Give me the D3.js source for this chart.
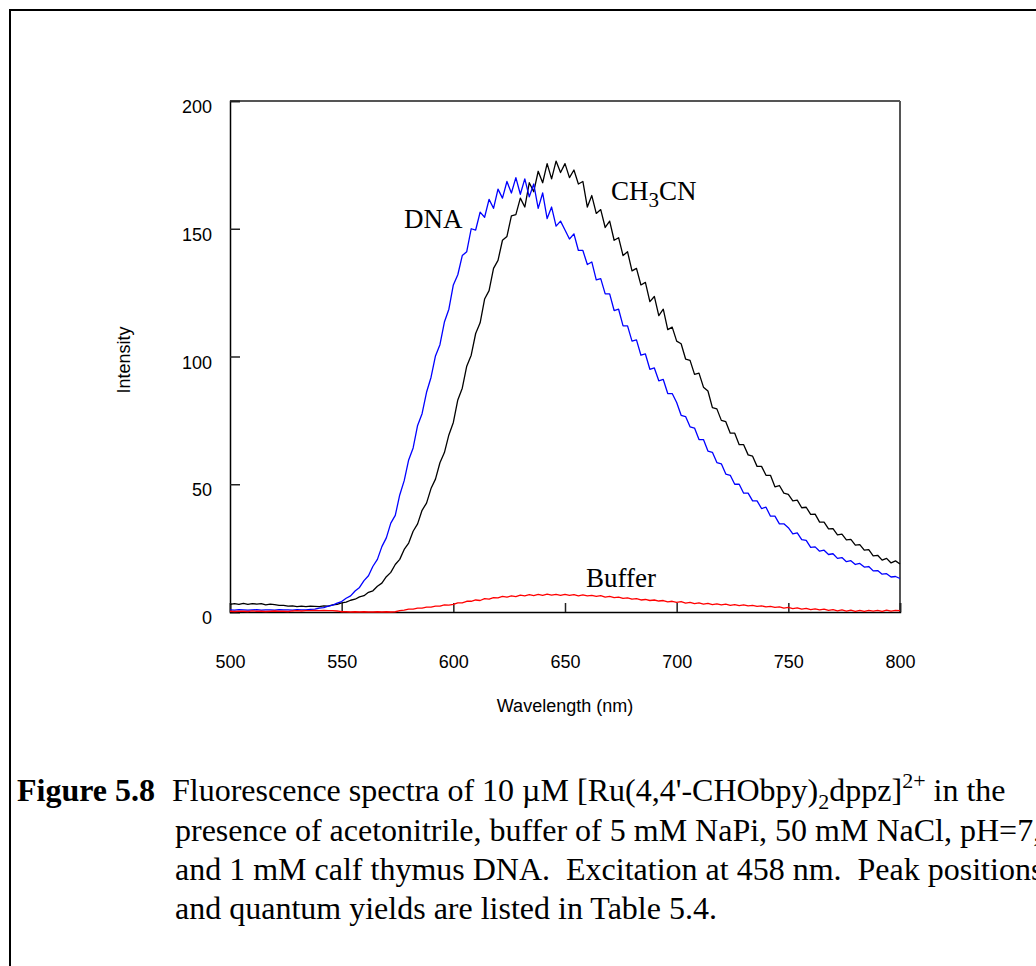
<!DOCTYPE html>
<html>
<head>
<meta charset="utf-8">
<script src="https://cdn.jsdelivr.net/npm/d3@7"></script>
<style>
  body { margin: 0; background: #fff; }
  svg { display: block; }
</style>
</head>
<body>
<svg id="chart" width="1036" height="966"></svg>
<script>
// --- Data (2 nm steps from 500 to 800 nm) ---
const wavelength = d3.range(500, 801, 2);

// acetonitrile
const ch3cn = [
    3.0, 3.3, 3.0, 3.4, 3.0, 3.3, 3.1, 3.3, 2.8, 3.1, 2.9, 2.6, 2.6, 2.3, 2.4, 2.1, 2.3, 2.1, 2.3, 2.2, 2.1, 2.4, 2.3, 2.8, 3.0,
    3.6, 3.9, 4.6, 5.0, 5.9, 6.4, 7.7, 8.3, 10.1, 11.3, 13.8, 15.5, 18.6, 20.6, 24.5, 27.0, 31.6, 34.5, 39.8, 42.6, 48.3, 52.0, 58.4, 62.4, 69.3,
    74.2, 83.0, 87.6, 96.2, 100.5, 109.0, 113.2, 122.5, 125.8, 134.5, 137.6, 145.5, 147.0, 155.0, 155.5, 162.0, 158.5, 168.0, 164.5, 172.5, 168.0, 175.5, 169.5, 176.5, 172.0,
    175.5, 170.0, 173.0, 167.5, 168.5, 158.5, 163.0, 156.0, 157.5, 150.5, 153.0, 145.5, 146.5, 139.5, 141.0, 133.5, 134.5, 128.0, 129.0, 121.5, 123.5, 116.0, 118.5, 110.5, 111.5,
    106.0, 105.0, 99.0, 98.5, 93.0, 93.5, 88.0, 86.5, 80.0, 79.5, 75.0, 74.5, 70.0, 70.0, 65.5, 65.5, 61.5, 61.0, 57.0, 57.0, 53.5, 53.5, 49.0, 49.5, 46.5,
    46.0, 43.5, 43.8, 40.8, 41.0, 38.2, 38.3, 35.2, 35.2, 32.5, 32.6, 30.2, 30.5, 28.2, 28.4, 26.2, 26.4, 24.2, 24.4, 22.0, 22.2, 20.3, 21.0, 19.2, 20.0, 18.8
];

// calf thymus DNA
const dna = [
    0.8, 0.7, 0.9, 0.8, 0.7, 0.8, 0.9, 0.7, 0.8, 0.8, 0.7, 0.9, 0.8, 0.8, 0.7, 0.9, 0.8, 0.8, 1.0, 1.1, 1.5, 1.7, 2.3, 2.7, 3.5,
    4.1, 5.4, 6.3, 8.2, 9.6, 12.3, 14.2, 17.9, 20.6, 25.6, 29.0, 34.8, 37.8, 45.8, 51.4, 59.5, 64.2, 73.0, 77.6, 86.0, 91.8, 100.2, 104.6, 113.5, 118.5,
    128.0, 132.0, 139.5, 141.0, 150.0, 149.5, 156.5, 154.5, 161.5, 158.0, 165.5, 162.0, 168.5, 164.0, 170.0, 163.5, 169.5, 162.5, 167.5, 158.0, 164.0, 154.0, 158.5, 151.0, 153.0,
    149.5, 146.0, 148.0, 141.5, 141.5, 136.0, 137.0, 130.0, 130.5, 124.5, 124.5, 118.0, 118.5, 112.0, 112.0, 106.0, 106.5, 100.5, 101.0, 95.0, 95.5, 90.5, 91.0, 85.5, 85.5,
    82.0, 77.0, 76.5, 72.5, 72.0, 67.5, 67.5, 63.0, 62.5, 58.5, 58.0, 54.0, 53.5, 50.0, 50.0, 46.5, 46.5, 43.5, 43.5, 40.5, 41.0, 37.5, 37.5, 34.5, 34.5,
    33.0, 30.6, 31.0, 28.3, 28.0, 25.3, 25.5, 23.8, 24.2, 22.5, 22.8, 21.0, 21.3, 19.7, 20.1, 18.6, 19.0, 17.6, 17.8, 16.1, 16.2, 14.8, 15.0, 13.7, 13.9, 13.1
];

// buffer only
const buffer = [
    0.3, 0.2, 0.3, 0.3, 0.2, 0.4, 0.3, 0.3, 0.2, 0.3, 0.4, 0.3, 0.3, 0.2, 0.4, 0.5, 0.4, 0.5, 0.5, 0.6, 0.5, 0.6, 0.5, 0.5, 0.4,
    0.1, 0.1, 0.0, 0.1, 0.0, 0.1, 0.0, 0.0, 0.1, 0.0, 0.1, 0.0, 0.1, 0.5, 0.7, 1.1, 1.1, 1.5, 1.5, 1.9, 1.9, 2.3, 2.3, 2.8, 2.7,
    3.0, 3.6, 3.6, 4.2, 4.2, 4.7, 4.5, 5.2, 5.0, 5.6, 5.5, 6.1, 5.8, 6.3, 6.0, 6.6, 6.3, 6.8, 6.4, 6.9, 6.5, 7.0, 6.6, 6.9, 6.5,
    6.9, 6.5, 6.8, 6.3, 6.7, 6.3, 6.5, 6.1, 6.4, 5.8, 6.1, 5.6, 5.8, 5.3, 5.5, 5.0, 5.2, 4.7, 4.9, 4.5, 4.7, 4.3, 4.5, 4.0, 4.2,
    3.8, 4.1, 3.5, 3.8, 3.3, 3.6, 3.1, 3.4, 2.9, 3.2, 2.8, 3.1, 2.6, 2.9, 2.5, 2.8, 2.4, 2.6, 2.2, 2.4, 2.0, 2.2, 1.8, 2.0, 1.5,
    1.8, 1.3, 1.6, 1.1, 1.4, 0.9, 1.2, 0.8, 1.1, 0.6, 0.9, 0.4, 0.8, 0.3, 0.7, 0.2, 0.6, 0.2, 0.6, 0.3, 0.6, 0.2, 0.7, 0.3, 0.6, 0.5
];

const xTicks = [500, 550, 600, 650, 700, 750, 800];
const yTicks = [0, 50, 100, 150, 200];

const sans = "'Liberation Sans', Arial, sans-serif";
const serif = "'Liberation Serif', 'Times New Roman', serif";

// --- Setup ---
const svg = d3.select("#chart");

// page frame (runs off the right and bottom edges)
svg.append("rect")
    .attr("x", 10).attr("y", 10)
    .attr("width", 1200).attr("height", 1200)
    .attr("fill", "none")
    .attr("stroke", "#000")
    .attr("stroke-width", 2);

const x = d3.scaleLinear().domain([500, 800]).range([230, 900]);
const y = d3.scaleLinear().domain([0, 200]).range([612, 101]);

// plot box: top + right in grey, left + bottom in black
svg.append("line")
    .attr("x1", x(500)).attr("x2", x(800))
    .attr("y1", y(200)).attr("y2", y(200))
    .attr("stroke", "#555").attr("stroke-width", 2);
svg.append("line")
    .attr("x1", x(800)).attr("x2", x(800))
    .attr("y1", y(200)).attr("y2", y(0))
    .attr("stroke", "#555").attr("stroke-width", 2);

// --- Axes (ticks point inwards) ---
const yAxis = svg.append("g")
    .attr("transform", `translate(${x(500)},0)`)
    .call(d3.axisLeft(y).tickValues(yTicks).tickSize(-10).tickPadding(18));

const xAxis = svg.append("g")
    .attr("transform", `translate(0,${y(0)})`)
    .call(d3.axisBottom(x).tickValues(xTicks).tickSize(-9).tickPadding(43));

[yAxis, xAxis].forEach(ax => {
    ax.select(".domain").attr("stroke", "#000").attr("stroke-width", 1.5);
    ax.selectAll(".tick line").attr("stroke", "#222").attr("stroke-width", 1.5);
    ax.selectAll(".tick text")
        .attr("fill", "#000")
        .style("font-family", sans)
        .style("font-size", "18px");
});
yAxis.selectAll(".tick text").attr("dy", "0.64em");

svg.append("text")
    .attr("transform", "translate(130,360) rotate(-90)")
    .attr("text-anchor", "middle")
    .style("font-family", sans)
    .style("font-size", "18px")
    .text("Intensity");

svg.append("text")
    .attr("x", 565).attr("y", 712)
    .attr("text-anchor", "middle")
    .style("font-family", sans)
    .style("font-size", "18px")
    .text("Wavelength (nm)");

// --- Spectra ---
const series = [
    { name: "CH3CN", values: ch3cn, color: "#000000" },
    { name: "DNA", values: dna, color: "#0000ff" },
    { name: "Buffer", values: buffer, color: "#ff0000" }
];

const line = d3.line()
    .x((d, i) => x(wavelength[i]))
    .y(d => y(d));

svg.append("g")
    .selectAll("path")
    .data(series)
    .join("path")
    .attr("d", d => line(d.values))
    .attr("fill", "none")
    .attr("stroke", d => d.color)
    .attr("stroke-width", 1.3)
    .attr("stroke-linejoin", "round");

// curve labels
const labelG = svg.append("g")
    .style("font-family", serif)
    .style("font-size", "27px")
    .attr("fill", "#000");

labelG.append("text").attr("x", 404).attr("y", 228).text("DNA");
labelG.append("text").attr("x", 586).attr("y", 587).text("Buffer");

const ch = labelG.append("text").attr("x", 611).attr("y", 200);
ch.append("tspan").text("CH");
ch.append("tspan").attr("dy", 7).style("font-size", "21px").text("3");
ch.append("tspan").attr("dy", -7).text("CN");

// --- Caption ---
const cap = svg.append("g")
    .style("font-family", serif)
    .style("font-size", "32px")
    .attr("fill", "#000");

const l1 = cap.append("text").attr("x", 17).attr("y", 801);
l1.append("tspan").style("font-weight", "bold").text("Figure 5.8");
l1.append("tspan").attr("x", 172).text("Fluorescence spectra of 10 \u00b5M [Ru(4,4'-CHObpy)");
l1.append("tspan").attr("dy", 8).style("font-size", "22px").text("2");
l1.append("tspan").attr("dy", -8).text("dppz]");
l1.append("tspan").attr("dy", -13).style("font-size", "22px").text("2+");
l1.append("tspan").attr("dy", 13).text(" in the");

cap.append("text").attr("x", 175).attr("y", 841)
    .text("presence of acetonitrile, buffer of 5 mM NaPi, 50 mM NaCl, pH=7,");
cap.append("text").attr("x", 175).attr("y", 880)
    .attr("xml:space", "preserve")
    .text("and 1 mM calf thymus DNA.  Excitation at 458 nm.  Peak positions");
cap.append("text").attr("x", 175).attr("y", 919)
    .text("and quantum yields are listed in Table 5.4.");
</script>
</body>
</html>
